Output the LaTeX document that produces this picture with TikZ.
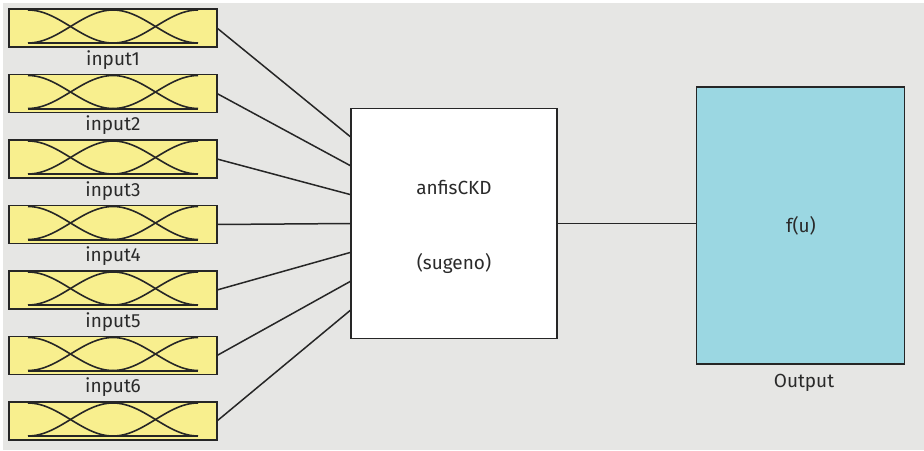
\documentclass[tikz,border=0pt]{standalone}
\usepackage{fontspec}
\setmainfont{Fira Sans}
\usetikzlibrary{calc}
\definecolor{panel}{HTML}{E6E6E4}
\definecolor{mfyellow}{HTML}{F8EF8E}
\definecolor{outcyan}{HTML}{9BD7E2}
\definecolor{edge}{HTML}{262626}
\definecolor{ink}{HTML}{2A2A2A}
\tikzset{
  blockbox/.style={draw=edge, line width=1.8pt, inner sep=0pt, outer sep=0pt},
  inbox/.style={blockbox, fill=mfyellow, minimum width=208pt, minimum height=38pt},
  lbl/.style={text=ink, font=\fontsize{19}{22}\selectfont, inner sep=0pt},
  wire/.style={draw=edge, line width=1.5pt},
  mf/.style={draw=edge, line width=1.6pt},
}
\begin{document}
\begin{tikzpicture}[x=1pt, y=-1pt]
  \useasboundingbox (0,0) rectangle (924,450);
  \fill[white] (0,0) rectangle (924,450);
  \fill[panel] (3,3) rectangle (924,450);

  % input membership-function blocks
  \foreach \i in {1,...,7} {
    \pgfmathsetmacro{\cy}{28+65.5*(\i-1)}
    \node[inbox] (in\i) at (113,\cy) {};
    \begin{scope}[shift={(113,\cy)}]
      \draw[mf, line width=2pt] (-85,15) -- (85,15);
      \draw[mf] plot[domain=0:85, samples=40] ({-85+\x}, {15-16.5*(1+cos(180*\x/85))});
      \draw[mf] plot[domain=-85:85, samples=60] ({\x}, {15-16.5*(1+cos(180*\x/85))});
      \draw[mf] plot[domain=-85:0, samples=40] ({85+\x}, {15-16.5*(1+cos(180*\x/85))});
    \end{scope}
  }
  \foreach \i in {1,...,6} {
    \node[lbl] (lab\i) at ($(in\i.south)+(0,13)$) {input\i};
  }

  % FIS block
  \node[blockbox, fill=white, minimum width=206pt, minimum height=230pt] (anfis) at (454,223.5) {};
  \node[lbl] (fisname) at (454,187) {anfisCKD};
  \node[lbl] (fistype) at (454,263) {(sugeno)};

  % output block
  \node[blockbox, fill=outcyan, minimum width=208pt, minimum height=277pt] (out) at (800.5,225.5) {};
  \node[lbl] (fu) at (801,226) {f(u)};
  \node[lbl] (outlab) at (804,383) {Output};

  % connectors
  \foreach \i in {1,...,7} {
    \draw[wire] (in\i.east) -- ($(anfis.north west)!\i/8!(anfis.south west)$);
  }
  \draw[wire] (anfis.east) -- (anfis.east -| out.west);
\end{tikzpicture}
\end{document}
